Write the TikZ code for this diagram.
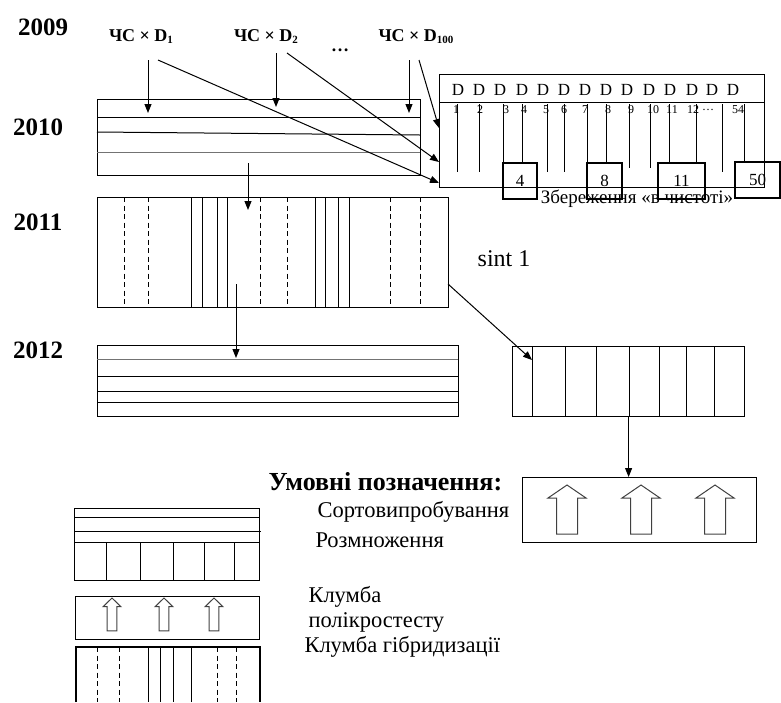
\documentclass[tikz,border=0pt]{standalone}
\usepackage{fontspec}
\setmainfont{Liberation Serif}
\usetikzlibrary{arrows.meta}

\tikzset{
  arr/.style={-{Triangle[length=9pt,width=7pt]},line width=1pt},
  box/.style={draw,line width=1.2pt,inner sep=0pt,anchor=north west},
  numbox/.style={draw,line width=1.2pt,inner sep=0pt},
  numlbl/.style={inner sep=0pt,font=\fontsize{17}{19}\selectfont},
  yearlbl/.style={font=\fontsize{25}{28}\selectfont\bfseries},
  crosslbl/.style={font=\fontsize{18}{20}\selectfont\bfseries},
  dlbl/.style={font=\fontsize{17}{19}\selectfont,inner sep=0pt},
  nlbl/.style={font=\fontsize{12}{13}\selectfont,inner sep=0pt},
  legtxt/.style={font=\fontsize{22.5}{24}\selectfont,anchor=west,inner sep=0pt},
  dashln/.style={dash pattern=on 5pt off 3.5pt,line width=1pt},
  blockarr/.pic={\draw[line width=1pt,black!75] (0,0) -- (19,13) -- (10.5,13) -- (10.5,49) -- (-10.5,49) -- (-10.5,13) -- (-19,13) -- cycle;}
}

\begin{document}
\begin{tikzpicture}[x=1pt,y=-1pt,line width=1pt]
\useasboundingbox (0,0) rectangle (781,702);

\node[yearlbl] (y2009) at (43,27) {2009};
\node[yearlbl] (y2010) at (38,127) {2010};
\node[yearlbl] (y2011) at (38,222) {2011};
\node[yearlbl] (y2012) at (38,350) {2012};

\node[crosslbl] (c1) at (141,37) {ЧС × D{\fontsize{11}{12}\selectfont\raisebox{-2pt}{1}}};
\node[crosslbl] (c2) at (266,37) {ЧС × D{\fontsize{11}{12}\selectfont\raisebox{-2pt}{2}}};
\node[crosslbl] (c100) at (416,37) {ЧС × D{\fontsize{11}{12}\selectfont\raisebox{-2pt}{100}}};
\node[crosslbl] (cdots) at (340,50) {\dots};

\node[box,minimum width=323pt,minimum height=76pt] (b2010) at (97,99) {};
\draw (97,117) -- (420,117);
\draw (97,132) -- (420,135);
\draw[black!55] (97,152) -- (420,152);

\node[box,minimum width=351pt,minimum height=110pt] (b2011) at (97,197) {};
\foreach \x in {124,148,260,287,390,420}
  \draw[dashln] (\x,197) -- (\x,307);
\foreach \x in {191,202,217,227,315,325,338,349}
  \draw (\x,197) -- (\x,307);

\node[box,minimum width=361pt,minimum height=71pt] (b2012) at (97,345) {};
\draw[black!55] (97,359) -- (458,359);
\foreach \y in {376,391,402}
  \draw (97,\y) -- (458,\y);

\node[box,minimum width=325pt,minimum height=113pt] (bD) at (439,74) {};
\draw (439,102) -- (764,102);
\foreach \x in {458,479,500,522,543,564,585,606,627,649,670,692,712,733}
  \node[dlbl] (d\x) at (\x,90) {D};
\foreach \x/\b in {457/172,479/172,503/163,522/163,547/172,564/172,587/163,606/163,629/168,650/168,669/163,696/163,722/172,744/163}
  \draw (\x,104) -- (\x,\b);
\foreach \x/\t in {456/1,480/2,506/3,524/4,546/5,564/6,585/7,608/8,631/9,653/10,672/11,693/12,708/\dots,738/54}
  \node[nlbl] (n\x) at (\x,110) {\t};

\node[numbox,minimum width=34pt,minimum height=36pt] (k4) at (520,181) {};
\node[numbox,minimum width=35pt,minimum height=36pt] (k8) at (604.5,181) {};
\node[numbox,minimum width=47pt,minimum height=36pt] (k11) at (681.5,181) {};
\node[numbox,minimum width=45pt,minimum height=36pt] (k50) at (757.5,180) {};
\node[numlbl] (t4) at (k4) {4};
\node[numlbl] (t8) at (k8) {8};
\node[numlbl] (t11) at (k11) {11};
\node[numlbl] (t50) at (k50) {50};
\node[font=\fontsize{19}{21}\selectfont,inner sep=0pt] (keep) at (637,199) {Збереження «в чистоті»};

\node[font=\fontsize{24}{26}\selectfont] (sint) at (504,259) {sint 1};

\node[box,minimum width=232pt,minimum height=70pt] (bsint) at (512,346) {};
\foreach \x in {532,565,596,629,659,686,714}
  \draw (\x,346) -- (\x,416);

\node[box,minimum width=234pt,minimum height=65pt] (bpoly) at (522,477) {};
\foreach \x in {567,641,715}
  \pic at (\x,485) {blockarr};

\coordinate (s1) at (148,60);
\coordinate (s1d) at (158,60);
\coordinate (s2) at (276,53);
\coordinate (s2d) at (287,53);
\coordinate (s3) at (409,60);
\coordinate (s3d) at (419,60);
\draw[arr] (s1) -- (s1 |- 0,113);
\draw[arr] (s2) -- (s2 |- 0,107);
\draw[arr] (s3) -- (s3 |- 0,113);
\draw[arr] (s1d) -- (bD.west |- 0,183);
\draw[arr] (s2d) -- (bD.west |- 0,162);
\draw[arr] (s3d) -- (bD.west |- 0,128);

\coordinate (f2010) at (248,163);
\coordinate (f2011) at (236,284);
\coordinate (r2011) at (448,284);
\draw[arr] (f2010) -- (f2010 |- 0,210);
\draw[arr] (f2011) -- (f2011 |- 0,358);
\draw[arr] (r2011) -- (532,360);
\draw[arr] (bsint.south) -- (bsint.south |- bpoly.north);

\node[font=\fontsize{26}{28}\selectfont\bfseries,anchor=west,inner sep=0pt] (leg) at (268,482) {Умовні позначення:};
\node[legtxt] (leg1) at (317,512) {Сортовипробування};
\node[legtxt] (leg2) at (315,540) {Розмноження};
\node[legtxt] (leg3) at (308,597) {Клумба};
\node[legtxt] (leg4) at (308,622) {полікростесту};
\node[legtxt] (leg5) at (304,647) {Клумба гібридизації};

\node[box,minimum width=185pt,minimum height=72pt] (l1) at (74,508) {};
\draw (74,517) -- (259,517);
\draw (74,531) -- (261,531);
\draw (74,542) -- (259,542);
\foreach \x in {106,140,173,204,234}
  \draw (\x,542) -- (\x,580);

\node[box,minimum width=184pt,minimum height=43pt] (l2) at (75,596) {};
\foreach \x in {112,164,214}
  \pic[xscale=0.47,yscale=0.67] at (\x,598) {blockarr};

\draw[line width=1.2pt] (76,702) |- (260,647) -- (260,702);
\foreach \x in {97,119,217,236}
  \draw[dashln] (\x,647) -- (\x,702);
\foreach \x in {148,160,173,191}
  \draw (\x,647) -- (\x,702);
\end{tikzpicture}
\end{document}
